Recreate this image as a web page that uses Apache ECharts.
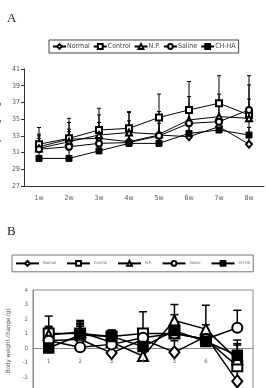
<!DOCTYPE html>
<html>
<head>
<meta charset="utf-8">
<script src="https://cdn.jsdelivr.net/npm/echarts@6/dist/echarts.min.js"></script>
<style>
  html, body { margin: 0; padding: 0; background: #fff; }
  #chart { width: 266px; height: 388px; }
</style>
</head>
<body>
<div id="chart"></div>
<script>
// panel A: body weight per week
var weeks = ['1w', '2w', '3w', '4w', '5w', '6w', '7w', '8w']
var normalA = [31.7, 32.6, 32.7, 32.3, 33.1, 32.9, 34.1, 32.0]
var controlA = [32.0, 32.7, 33.7, 33.9, 35.2, 36.1, 36.9, 35.5]
var npA = [31.5, 32.3, 33.1, 33.4, 33.2, 34.9, 35.3, 35.1]
var salineA = [31.4, 31.7, 32.1, 32.2, 33.0, 34.5, 34.7, 36.1]
var chhaA = [30.3, 30.3, 31.2, 32.1, 32.1, 33.3, 33.7, 33.1]
var normalErrA = [1.0, 1.2, 1.4, 1.5, 1.4, 1.5, 1.3, 2.0]
var controlErrA = [2.0, 2.4, 2.6, 2.0, 2.8, 3.4, 3.3, 4.7]
var npErrA = [1.7, 2.3, 2.4, 2.4, 2.7, 2.8, 2.7, 4.0]
var salineErrA = [1.6, 1.8, 2.5, 2.6, 2.2, 2.0, 2.1, 1.3]
var chhaErrA = [0.8, 1.0, 1.2, 1.0, 1.1, 1.4, 1.2, 1.6]
var ticksA = [27, 29, 31, 33, 35, 37, 39, 41]

// panel B: body weight change
var stepsB = ['1', '2', '3', '4', '5', '6', '']
var normalB = [0.5, 0.6, -0.35, 0.6, -0.3, 0.8, -2.3]
var controlB = [1.0, 1.0, 0.8, 1.0, 1.0, 0.6, -1.25]
var npB = [0.9, 1.1, 0.4, -0.55, 1.9, 1.3, -0.8]
var salineB = [0.5, 0.05, 0.25, 0.7, 1.0, 0.6, 1.4]
var chhaB = [0.0, 0.9, 0.8, 0.1, 1.2, 0.45, -0.5]
var normalErrB = [0.7, 1.0, 0.85, 0.4, 0.8, 0.4, 1.3]
var controlErrB = [1.2, 0.9, 0.4, 1.5, 1.3, 2.35, 1.8]
var npErrB = [0.6, 0.7, 0.7, 1.75, 1.1, 0.3, 1.1]
var salineErrB = [0.9, 1.45, 0.95, 0.6, 0.5, 0.6, 1.2]
var chhaErrB = [0.5, 0.8, 0.45, 0.9, 0.4, 0.45, 0.7]
var minB = -3
var maxB = 4

var names = ['Normal', 'Control', 'N.P.', 'Saline', 'CH-HA']
var symbols = ['emptyDiamond', 'emptyRect', 'emptyTriangle', 'emptyCircle', 'rect']

var font = "'Liberation Sans Narrow', 'DejaVu Sans Condensed', Arial, sans-serif"

// upward error bars
function errSeries(idx, vals, errs, cap, lw) {
  return {
    type: 'custom',
    xAxisIndex: idx,
    yAxisIndex: idx,
    z: 1,
    silent: true,
    data: vals.map(function(v, i) { return [i, v, v + errs[i]] }),
    renderItem: function(params, api) {
      var lo = api.coord([api.value(0), api.value(1)])
      var hi = api.coord([api.value(0), api.value(2)])
      return {
        type: 'group',
        children: [
          { type: 'line', shape: { x1: lo[0], y1: lo[1], x2: hi[0], y2: hi[1] }, style: { stroke: '#000', lineWidth: lw } },
          { type: 'line', shape: { x1: hi[0] - cap, y1: hi[1], x2: hi[0] + cap, y2: hi[1] }, style: { stroke: '#000', lineWidth: lw } }
        ]
      }
    }
  }
}

function lineSeries(idx, k, vals, size, lw) {
  return {
    name: names[k],
    type: 'line',
    xAxisIndex: idx,
    yAxisIndex: idx,
    z: 3,
    data: vals,
    symbol: symbols[k],
    symbolSize: k === 0 ? [size, size * 1.2] : size,
    lineStyle: { color: '#000', width: lw },
    itemStyle: { color: '#000', borderColor: '#000', borderWidth: lw },
    animation: false
  }
}

var chart = echarts.init(document.getElementById('chart'))
chart.setOption({
  backgroundColor: '#fff',
  animation: false,
  graphic: [
    { type: 'text', left: 7, top: 12, style: { text: 'A', font: "13px 'Liberation Serif', serif", fill: '#222' } },
    { type: 'text', left: 7, top: 225, style: { text: 'B', font: "13px 'Liberation Serif', serif", fill: '#222' } }
  ],
  legend: [
    {
      data: names, left: 49, top: 40, orient: 'horizontal',
      itemWidth: 13, itemHeight: 6, itemGap: 3, padding: [3, 3],
      borderColor: '#444', borderWidth: 1,
      textStyle: { fontSize: 7, fontFamily: font, color: '#444', padding: [0, 0, 0, -4] },
      selectedMode: false
    },
    {
      data: names, left: 12, top: 255, orient: 'horizontal',
      itemWidth: 23, itemHeight: 6, itemGap: 10, padding: [5, 3],
      borderColor: '#777', borderWidth: 1,
      textStyle: { fontSize: 4, fontFamily: font, color: '#666', padding: [0, 0, 0, -1] },
      selectedMode: false
    }
  ],
  grid: [
    { left: 24, top: 69, width: 240, height: 117, outerBoundsMode: 'none' },
    { left: 33, top: 290, width: 220, height: 101.5, outerBoundsMode: 'none', show: true, borderColor: '#888', borderWidth: 1 }
  ],
  xAxis: [
    {
      gridIndex: 0, type: 'category', data: weeks, boundaryGap: true,
      axisLine: { lineStyle: { color: '#333' } },
      axisTick: { inside: true, length: 4, lineStyle: { color: '#333' } },
      axisLabel: { fontSize: 7, fontFamily: font, color: '#555', margin: 9 }
    },
    {
      gridIndex: 1, type: 'category', data: stepsB, boundaryGap: true,
      axisLine: { onZero: true, lineStyle: { color: '#888' } },
      axisTick: { inside: true, length: 3, lineStyle: { color: '#888' } },
      axisLabel: { show: false }
    },
    {
      // label-only copy of the B category axis, lifted up to the zero line
      gridIndex: 1, type: 'category', data: stepsB, boundaryGap: true, position: 'bottom', z: 4,
      offset: -101.5 * (0 - minB) / (maxB - minB),
      axisLine: { show: false, onZero: false },
      axisTick: { show: false },
      axisLabel: { interval: 0, hideOverlap: false, fontSize: 6, fontFamily: font, color: '#666', margin: 10 }
    }
  ],
  yAxis: [
    {
      gridIndex: 0, type: 'value', min: ticksA[0], max: ticksA[ticksA.length - 1], interval: 2,
      name: 'Body weight (g)', nameLocation: 'middle', nameGap: 15, nameRotate: 90,
      nameTextStyle: { fontSize: 8, fontFamily: font, color: '#444' },
      axisLine: { show: true, lineStyle: { color: '#333' } },
      axisTick: { show: true, length: 3, lineStyle: { color: '#333' } },
      axisLabel: { fontSize: 7, fontFamily: font, color: '#555', margin: 4 },
      splitLine: { show: false }
    },
    {
      gridIndex: 1, type: 'value', min: minB, max: maxB, interval: 1,
      name: 'Body weight change (g)', nameLocation: 'middle', nameGap: 19, nameRotate: 90,
      nameTextStyle: { fontSize: 6, fontFamily: font, color: '#555' },
      axisLine: { show: true, lineStyle: { color: '#888' } },
      axisTick: { show: false },
      axisLabel: { fontSize: 6, fontFamily: font, color: '#666', margin: 5 },
      splitLine: { show: false }
    }
  ],
  series: [
    errSeries(0, normalA, normalErrA, 2, 1),
    errSeries(0, controlA, controlErrA, 2, 1),
    errSeries(0, npA, npErrA, 2, 1),
    errSeries(0, salineA, salineErrA, 2, 1),
    errSeries(0, chhaA, chhaErrA, 2, 1),
    lineSeries(0, 0, normalA, 6, 1),
    lineSeries(0, 1, controlA, 6, 1),
    lineSeries(0, 2, npA, 6, 1),
    lineSeries(0, 3, salineA, 6, 1),
    lineSeries(0, 4, chhaA, 6, 1),
    errSeries(1, normalB, normalErrB, 4, 1.5),
    errSeries(1, controlB, controlErrB, 4, 1.5),
    errSeries(1, npB, npErrB, 4, 1.5),
    errSeries(1, salineB, salineErrB, 4, 1.5),
    errSeries(1, chhaB, chhaErrB, 4, 1.5),
    lineSeries(1, 0, normalB, 10, 1.5),
    lineSeries(1, 1, controlB, 10, 1.5),
    lineSeries(1, 2, npB, 10, 1.5),
    lineSeries(1, 3, salineB, 10, 1.5),
    lineSeries(1, 4, chhaB, 10, 1.5)
  ]
})
</script>
</body>
</html>
